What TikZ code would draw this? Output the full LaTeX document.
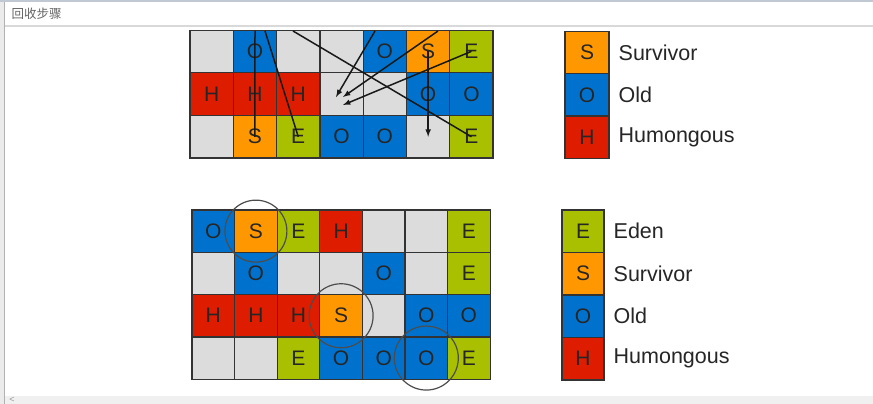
\documentclass[tikz,border=0pt]{standalone}
\usepackage{fontspec}
\setmainfont{Liberation Sans}
\newfontfamily\cjk{Noto Sans CJK SC}
\usepackage{tikz}
\usetikzlibrary{arrows, positioning, calc}

\definecolor{edenC}{RGB}{168,192,0}
\definecolor{survC}{RGB}{255,152,0}
\definecolor{oldC}{RGB}{0,114,206}
\definecolor{humC}{RGB}{222,28,0}
\definecolor{freeC}{RGB}{220,220,220}
\definecolor{frameC}{RGB}{192,200,212}

\tikzset{
    cell/.style={draw=black!80, line width=1.3pt, minimum width=43.3pt, minimum height=42.7pt,
        inner sep=0pt, font=\fontsize{21}{21}\selectfont, text=black!85},
    regE/.style={cell, fill=edenC, node contents=E},
    regS/.style={cell, fill=survC, node contents=S},
    regO/.style={cell, fill=oldC, node contents=O},
    regH/.style={cell, fill=humC, node contents=H},
    regN/.style={cell, fill=freeC, node contents={}},
    lab/.style={anchor=west, font=\fontsize{21.5}{21.5}\selectfont, text=black!85},
    move/.style={line width=1.5pt, black!90},
    ring/.style={draw=black!70, line width=1.2pt}
}

\begin{document}
\begin{tikzpicture}[x=1pt, y=-1pt]
    \useasboundingbox (0,0) rectangle (873,404);
    \fill[white] (0,0) rectangle (873,404);

    % 回收前
    \foreach \row [count=\r] in {{N,O,N,N,O,S,E},{H,H,H,N,N,O,O},{N,S,E,O,O,N,E}}
        \foreach \c [count=\k] in \row
            \node (t\r\k) at ({190+43.3*(\k-0.5)}, {30+42.7*(\r-0.5)}) [reg\c];

    % 复制存活对象
    \coordinate (s1) at (255,31);
    \coordinate (s2) at (265,31);
    \coordinate (s3) at (293,31);
    \coordinate (s4) at (375,31);
    \coordinate (s5) at (438,31);
    \coordinate (e4) at (336,97);
    \coordinate (e5) at (343,97);
    \coordinate (e6) at (343,105);
    \draw[move] (s1) -- (t32.center);
    \draw[move] (s2) -- (t33.center);
    \draw[move] (s3) -- (t37.center);
    \draw[move, -latex] (s4) -- (e4);
    \draw[move, -latex] (s5) -- (e5);
    \draw[move, -latex] (t17.center) -- (e6);
    \draw[move, -latex] (t16.center) -- (t36.center);

    \foreach \c/\lab [count=\r] in {S/Survivor, O/Old, H/Humongous} {
        \node (ka\r) at (587, {31.5+42.3*(\r-0.5)}) [reg\c, minimum width=44pt];
        \node[lab, xshift=5.5pt] (la\r) at (ka\r.east) {\lab};
    }

    % 回收后
    \foreach \row [count=\r] in {{O,S,E,H,N,N,E},{N,O,N,N,O,N,E},{H,H,H,S,N,O,O},{N,N,E,O,O,O,E}}
        \foreach \c [count=\k] in \row
            \node (b\r\k) at ({192+42.6*(\k-0.5)}, {210+42.3*(\r-0.5)}) [reg\c, minimum width=42.6pt, minimum height=42.3pt];

    \draw[ring] (b12) circle (31);
    \draw[ring] (b34) circle (32);
    \draw[ring] (b46) circle (32);

    \foreach \c/\lab [count=\r] in {E/Eden, S/Survivor, O/Old, H/Humongous} {
        \node (kb\r) at (583, {210+42.5*(\r-0.5)}) [reg\c, minimum width=42pt, minimum height=42.5pt];
        \node[lab, xshift=5.5pt] (lb\r) at (kb\r.east) {\lab};
    }

    % 窗口边框
    \fill[white] (0,0) rectangle (873,30.5);
    \fill[frameC] (0,0) rectangle (873,2.5);
    \draw[black!15, line width=1.5pt] (5,26) -- (873,26);
    \fill[black!8] (0,2.5) rectangle (4,404);
    \draw[black!30, line width=0.8pt] (4.5,2.5) -- (4.5,404);
    \fill[black!6] (5,396) rectangle (873,404);
    \node[anchor=west, font=\cjk\fontsize{12.5}{12.5}\selectfont, text=black!60] (title) at (8,14) {回收步骤};
    \node[font=\fontsize{9}{9}\selectfont, text=black!40] (lft) at (12,400) {<};
\end{tikzpicture}
\end{document}
